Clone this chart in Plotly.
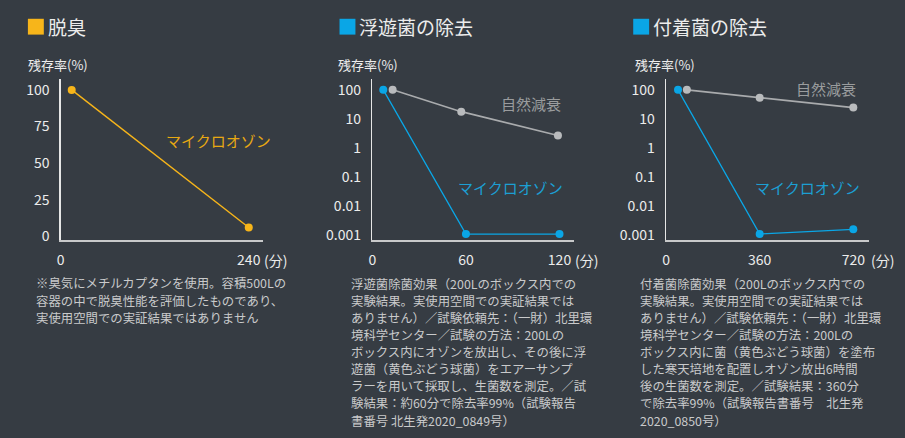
import plotly.graph_objects as go

W, H = 905, 438

# ---------------- data ----------------
deodor_x = [14, 240]
deodor_y = [100, 6]

float_ozone_x = [7, 60, 120]
float_ozone_y = [100, 0.0011, 0.0011]
float_nat_x = [13, 57, 119]
float_nat_y = [100, 17.8, 2.7]

attach_ozone_x = [46, 360, 720]
attach_ozone_y = [100, 0.0011, 0.0016]
attach_nat_x = [80, 360, 720]
attach_nat_y = [100, 53, 24.5]

lin_ticks = [0, 25, 50, 75, 100]
log_ticks = [0.001, 0.01, 0.1, 1, 10, 100]
log_ticktext = ["0.001", "0.01", "0.1", "1", "10", "100"]
x1_ticks = [0, 240]
x2_ticks = [0, 60, 120]
x3_ticks = [0, 360, 720]

titles = ["脱臭", "浮遊菌の除去", "付着菌の除去"]
ylabel = "残存率(%)"
unit = "(分)"
ozone_label = "マイクロオゾン"
nat_label = "自然減衰"

note1 = ["※臭気にメチルカプタンを使用。容積500Lの",
         "容器の中で脱臭性能を評価したものであり、",
         "実使用空間での実証結果ではありません"]
note2 = ["浮遊菌除菌効果（200Lのボックス内での",
         "実験結果。実使用空間での実証結果では",
         "ありません）／試験依頼先：（一財）北里環",
         "境科学センター／試験の方法：200Lの",
         "ボックス内にオゾンを放出し、その後に浮",
         "遊菌（黄色ぶどう球菌）をエアーサンプ",
         "ラーを用いて採取し、生菌数を測定。／試",
         "験結果：約60分で除去率99%（試験報告",
         "書番号 北生発2020_0849号）"]
note3 = ["付着菌除菌効果（200Lのボックス内での",
         "実験結果。実使用空間での実証結果では",
         "ありません）／試験依頼先：（一財）北里環",
         "境科学センター／試験の方法：200Lの",
         "ボックス内に菌（黄色ぶどう球菌）を塗布",
         "した寒天培地を配置しオゾン放出6時間",
         "後の生菌数を測定。／試験結果：360分",
         "で除去率99%（試験報告書番号　北生発",
         "2020_0850号）"]

# ---------------- style ----------------
BG = "#363c43"
YEL = "#f7b51a"
YEL_T = "#e8a912"
BLUE = "#0aa6e6"
BLUE_T = "#1c9fd3"
GRAY = "#a9abad"
FONT = "Noto Sans CJK JP"
TXT = "#ececec"
NOTE = "#c9cacb"

def px(x):
    return x / W

def py(y):
    return 1 - y / H

fig = go.Figure()

fig.add_trace(go.Scatter(x=deodor_x, y=deodor_y, mode="lines+markers",
                         line=dict(color=YEL, width=1.4),
                         marker=dict(color=YEL, size=8),
                         xaxis="x", yaxis="y", cliponaxis=False))
fig.add_trace(go.Scatter(x=float_nat_x, y=float_nat_y, mode="lines+markers",
                         line=dict(color=GRAY, width=1.6),
                         marker=dict(color="#b9bbbd", size=8),
                         xaxis="x2", yaxis="y2", cliponaxis=False))
fig.add_trace(go.Scatter(x=float_ozone_x, y=float_ozone_y, mode="lines+markers",
                         line=dict(color=BLUE, width=1.3),
                         marker=dict(color=BLUE, size=8),
                         xaxis="x2", yaxis="y2", cliponaxis=False))
fig.add_trace(go.Scatter(x=attach_nat_x, y=attach_nat_y, mode="lines+markers",
                         line=dict(color=GRAY, width=1.6),
                         marker=dict(color="#b9bbbd", size=8),
                         xaxis="x3", yaxis="y3", cliponaxis=False))
fig.add_trace(go.Scatter(x=attach_ozone_x, y=attach_ozone_y, mode="lines+markers",
                         line=dict(color=BLUE, width=1.3),
                         marker=dict(color=BLUE, size=8),
                         xaxis="x3", yaxis="y3", cliponaxis=False))

ydom = [py(243), py(80)]
tickfont = dict(family=FONT, size=14, color=TXT)

def xax(dom, rng, ticks):
    return dict(domain=dom, range=rng, tickvals=ticks, ticktext=[str(t) for t in ticks],
                showline=True, linecolor="#c8c9ca", linewidth=2, showgrid=False,
                zeroline=False, ticks="", tickfont=tickfont, ticklabelstandoff=6,
                fixedrange=True)

def yax(dom, rng, anchor, **kw):
    d = dict(domain=dom, range=rng, anchor=anchor, showline=True, linecolor="#e6e6e6",
             linewidth=1.5, showgrid=False, zeroline=False, ticks="", tickfont=tickfont,
             ticklabelstandoff=7, fixedrange=True)
    d.update(kw)
    return d

fig.update_layout(
    width=W, height=H, margin=dict(l=0, r=0, t=0, b=0),
    paper_bgcolor=BG, plot_bgcolor=BG, showlegend=False, hovermode=False,
    xaxis=xax([px(57), px(260)], [0, 258], x1_ticks) | dict(anchor="y"),
    yaxis=yax(ydom, [-2.7, 107.4], "x", tickvals=lin_ticks),
    xaxis2=xax([px(370), px(573)], [0, 129.6], x2_ticks) | dict(anchor="y2"),
    yaxis2=yax(ydom, [-3.17, 2.37], "x2", type="log", tickvals=log_ticks, ticktext=log_ticktext),
    xaxis3=xax([px(665), px(869)], [0, 781], x3_ticks) | dict(anchor="y3"),
    yaxis3=yax(ydom, [-3.17, 2.37], "x3", type="log", tickvals=log_ticks, ticktext=log_ticktext),
)

ann = []
shapes = []
title_sq = [(24, YEL), (337, BLUE), (632, BLUE)]
for (sx, col), t in zip(title_sq, titles):
    shapes.append(dict(type="rect", xref="paper", yref="paper",
                       x0=px(sx), x1=px(sx + 16), y0=py(35), y1=py(19),
                       fillcolor=col, line=dict(width=0)))
    ann.append(dict(text=t, x=px(sx + 18), y=py(27), xanchor="left", yanchor="middle",
                    font=dict(family=FONT, size=19, color=TXT)))

for lx in [22, 333, 632]:
    ann.append(dict(text=ylabel, x=px(lx), y=py(65), xanchor="left", yanchor="middle",
                    font=dict(family=FONT, size=13, color=TXT)))

for ux in [259, 572, 869]:
    ann.append(dict(text=unit, x=px(ux), y=py(263), xanchor="left", yanchor="middle",
                    font=dict(family=FONT, size=14, color=TXT)))

ann.append(dict(text=ozone_label, x=px(161), y=py(142), xanchor="left", yanchor="middle",
                font=dict(family=FONT, size=15, color=YEL_T)))
ann.append(dict(text=ozone_label, x=px(454), y=py(190), xanchor="left", yanchor="middle",
                font=dict(family=FONT, size=15, color=BLUE_T)))
ann.append(dict(text=ozone_label, x=px(752), y=py(190), xanchor="left", yanchor="middle",
                font=dict(family=FONT, size=15, color=BLUE_T)))
ann.append(dict(text=nat_label, x=px(497), y=py(105), xanchor="left", yanchor="middle",
                font=dict(family=FONT, size=15, color="#9a9c9e")))
ann.append(dict(text=nat_label, x=px(794), y=py(90), xanchor="left", yanchor="middle",
                font=dict(family=FONT, size=15, color="#9a9c9e")))

for lines, nx, ny0, step in [(note1, 30, 286, 18), (note2, 347, 287, 17.3), (note3, 637, 287, 17.3)]:
    for i, ln in enumerate(lines):
        ann.append(dict(text=ln, x=px(nx), y=py(ny0 + i * step), xanchor="left",
                        yanchor="middle", font=dict(family=FONT, size=12.4, color=NOTE)))

for a in ann:
    a.update(xref="paper", yref="paper", showarrow=False)

fig.update_layout(annotations=ann, shapes=shapes)
fig.write_html("out.html", config={"displayModeBar": False, "staticPlot": True},
               post_script="document.body.style.margin='0';document.body.style.overflow='hidden';")
